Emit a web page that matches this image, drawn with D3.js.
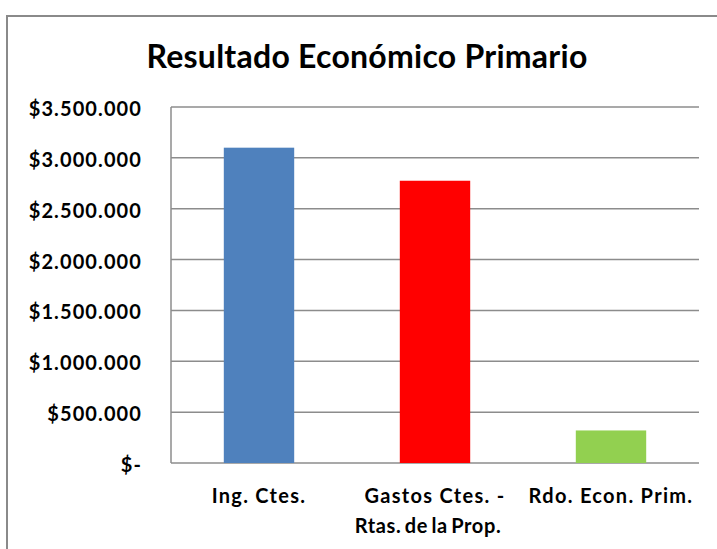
<!DOCTYPE html>
<html>
<head>
<meta charset="utf-8">
<script src="https://cdn.jsdelivr.net/npm/d3@7"></script>
<style>
  body { margin: 0; background: #fff; }
  text { font-family: Lato, "Open Sans", sans-serif; font-weight: bold; fill: #000; }
</style>
</head>
<body>
<svg id="chart" width="717" height="549"></svg>
<script>
// chart values
const categories = ["Ing. Ctes.", "Gastos Ctes. - Rtas. de la Prop.", "Rdo. Econ. Prim."]
const categoryLines = [["Ing. Ctes."], ["Gastos Ctes. -", "Rtas. de la Prop."], ["Rdo. Econ. Prim."]]
const values = [3100000, 2775000, 320000]
const barColors = ["#4f81bd", "#ff0000", "#92d050"]
const yTicks = [0, 500000, 1000000, 1500000, 2000000, 2500000, 3000000, 3500000]
const yTickLabels = ["$-", "$500.000", "$1.000.000", "$1.500.000", "$2.000.000", "$2.500.000", "$3.000.000", "$3.500.000"]
const title = "Resultado Económico Primario"

var margin = {left: 171, right: 18, top: 107, bottom: 86}
var width = 717, height = 549

var svg = d3.select("#chart")

// outer chart frame (only top and left edges are visible in the crop)
svg.append("path")
    .attr("d", "M7,549 V16 H717")
    .attr("fill", "none")
    .attr("stroke", "#8a8a8a")
    .attr("stroke-width", 2)

var xScale = d3.scaleBand()
    .domain(categories)
    .range([margin.left, width - margin.right])
    .paddingInner(0.6)
    .paddingOuter(0.3)

var yScale = d3.scaleLinear()
    .domain([0, 3500000])
    .range([height - margin.bottom, margin.top])

// gridlines
svg.append("g")
    .selectAll("line")
    .data(yTicks)
    .enter()
    .append("line")
        .attr("x1", margin.left)
        .attr("x2", width - margin.right)
        .attr("y1", d => yScale(d))
        .attr("y2", d => yScale(d))
        .attr("stroke", "#8c8c8c")
        .attr("stroke-width", 1.5)

// y axis line
svg.append("line")
    .attr("x1", margin.left).attr("x2", margin.left)
    .attr("y1", yScale(3500000)).attr("y2", yScale(0))
    .attr("stroke", "#8c8c8c")
    .attr("stroke-width", 1.5)

// y labels
svg.append("g")
    .selectAll("text")
    .data(yTicks)
    .enter()
    .append("text")
        .attr("x", 142)
        .attr("y", d => yScale(d) + 2)
        .attr("dy", "0.35em")
        .attr("text-anchor", "end")
        .style("font-size", "20px")
        .style("letter-spacing", "1.1px")
        .text((d, i) => yTickLabels[i])

// bars
svg.append("g")
    .selectAll("rect")
    .data(values)
    .enter()
    .append("rect")
        .attr("x", (d, i) => xScale(categories[i]))
        .attr("y", d => yScale(d))
        .attr("width", xScale.bandwidth())
        .attr("height", d => yScale(0) - yScale(d))
        .attr("fill", (d, i) => barColors[i])

// x labels (second line of the wrapped label sits a bit to the left, tighter)
var xl = svg.append("g")
    .selectAll("text")
    .data(categories)
    .enter()
    .append("text")
        .attr("text-anchor", "middle")
        .style("font-size", "20px")
        .style("letter-spacing", "1.3px")
xl.each(function(d, i) {
    var cx = xScale(d) + xScale.bandwidth() / 2
    d3.select(this).selectAll("tspan")
        .data(categoryLines[i])
        .enter()
        .append("tspan")
            .attr("x", (t, j) => j == 0 ? cx : cx - 7)
            .attr("y", (t, j) => 503 + j * 30)
            .style("letter-spacing", (t, j) => j == 0 ? null : "0.6px")
            .style("word-spacing", (t, j) => j == 0 ? null : "-2px")
            .text(t => t)
})

// title
svg.append("text")
    .attr("x", 367)
    .attr("y", 68)
    .attr("text-anchor", "middle")
    .style("font-size", "32px")
    .style("letter-spacing", "0.25px")
    .text(title)
</script>
</body>
</html>
